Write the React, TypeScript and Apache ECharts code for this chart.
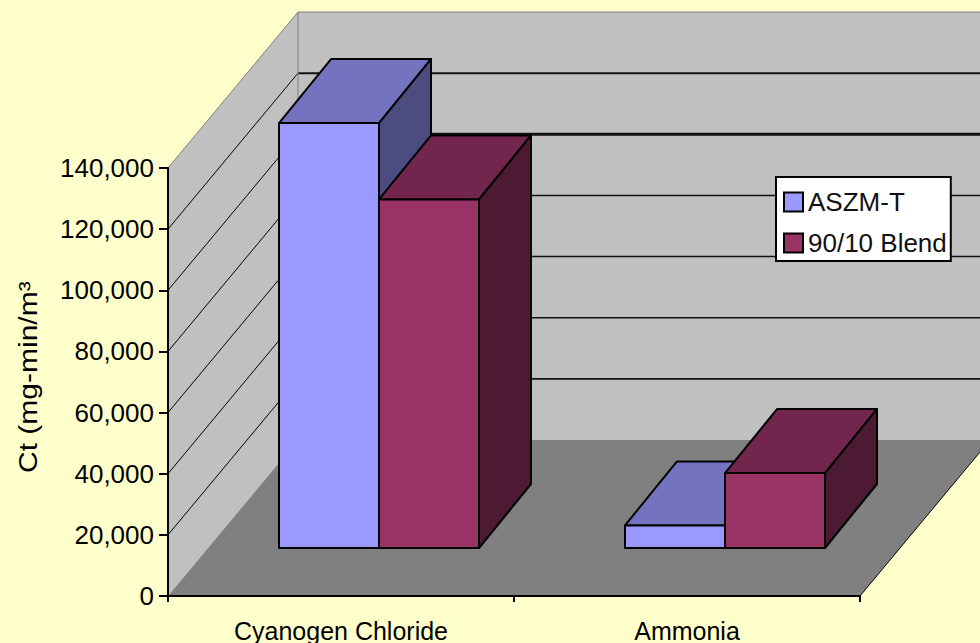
import React, { useEffect, useRef } from "react";
import * as echarts from "echarts";

const categories = ["Cyanogen Chloride", "Ammonia"];
const aszmValues = [139000, 7400];
const blendValues = [114000, 24500];
const yTicks = [20000, 40000, 60000, 80000, 100000, 120000, 140000];

const PAGE_BG = "#FFFFCC";
const WALL = "#C0C0C0";
const FLOOR = "#808080";
const INK = "#000000";

// Oblique projection of the chart box: how far the back wall sits from the front plane.
const BOX_DX = 130;
const BOX_DY = -156;
// Depth of each column and where the columns stand on the floor.
const BAR_DX = 52;
const BAR_DY = -64;
const INSET_DX = 38;
const INSET_DY = -48;
const BAR_W = 100;

// Back wall gridlines drawn heavier than the rest.
const backLineWidth = (t: number) => (t === 100000 ? 3 : t === 120000 ? 2 : 1.6);

function renderFrame(params: any, api: any) {
  const cs = params.coordSys;
  const x0 = cs.x;
  const x1 = cs.x + cs.width;
  const yBase = api.coord([0, 0])[1];
  const yTop = api.coord([0, 140000])[1];
  const poly = (points: number[][], fill: string) => ({
    type: "polygon",
    shape: { points },
    style: { fill, stroke: null },
  });
  const line = (a: number[], b: number[], stroke: string, lineWidth: number) => ({
    type: "line",
    shape: { x1: a[0], y1: a[1], x2: b[0], y2: b[1] },
    style: { stroke, lineWidth, fill: null },
  });
  const children: any[] = [
    poly([[x0, yBase], [x0, yTop], [x0 + BOX_DX, yTop + BOX_DY], [x0 + BOX_DX, yBase + BOX_DY]], WALL),
    poly([[x0 + BOX_DX, yTop + BOX_DY], [x1 + BOX_DX, yTop + BOX_DY], [x1 + BOX_DX, yBase + BOX_DY], [x0 + BOX_DX, yBase + BOX_DY]], WALL),
    poly([[x0, yBase], [x1, yBase], [x1 + BOX_DX, yBase + BOX_DY], [x0 + BOX_DX, yBase + BOX_DY]], FLOOR),
  ];
  for (const t of yTicks) {
    const y = api.coord([0, t])[1];
    const isTop = t === 140000;
    const bx = x0 + BOX_DX;
    const by = y + BOX_DY;
    children.push(line([x0, y], [bx, by], isTop ? FLOOR : INK, 1));
    children.push(line([bx, by], [x1 + BOX_DX, by], isTop ? FLOOR : "#111111", isTop ? 1 : backLineWidth(t)));
  }
  children.push(line([x0 + BOX_DX, yTop + BOX_DY], [x0 + BOX_DX, yBase + BOX_DY], FLOOR, 1));
  children.push(line([x1, yBase], [x1 + BOX_DX, yBase + BOX_DY], INK, 1));
  return { type: "group", children };
}

function renderBar(side: number, front: string, top: string, flank: string) {
  return (_params: any, api: any) => {
    const base = api.coord([api.value(0), 0]);
    const head = api.coord([api.value(0), api.value(1)]);
    const xl = base[0] + INSET_DX + (side === 0 ? -BAR_W : 0);
    const xr = xl + BAR_W;
    const yb = base[1] + INSET_DY;
    const yt = head[1] + INSET_DY;
    const face = (points: number[][], fill: string) => ({
      type: "polygon",
      shape: { points },
      style: { fill, stroke: INK, lineWidth: 2, lineJoin: "round" },
    });
    return {
      type: "group",
      children: [
        face([[xl, yt], [xl + BAR_DX, yt + BAR_DY], [xr + BAR_DX, yt + BAR_DY], [xr, yt]], top),
        face([[xr, yt], [xr + BAR_DX, yt + BAR_DY], [xr + BAR_DX, yb + BAR_DY], [xr, yb]], flank),
        face([[xl, yt], [xr, yt], [xr, yb], [xl, yb]], front),
      ],
    };
  };
}

export default function App() {
  const ref = useRef<HTMLDivElement>(null);

  useEffect(() => {
    document.body.style.margin = "0";
    const chart = echarts.init(ref.current!, null, { renderer: "svg" });
    const font = "'Liberation Sans', Arial, sans-serif";
    chart.setOption({
      animation: false,
      backgroundColor: PAGE_BG,
      grid: { left: 168, top: 168, width: 692, height: 428, containLabel: false },
      xAxis: {
        type: "category",
        data: categories,
        z: 5,
        axisLine: { lineStyle: { color: INK, width: 2 } },
        axisTick: { show: true, length: 6, lineStyle: { color: INK, width: 2 } },
        axisLabel: { color: INK, fontSize: 25, fontFamily: font, margin: 22 },
      },
      yAxis: {
        type: "value",
        min: 0,
        max: 140000,
        interval: 20000,
        z: 5,
        splitLine: { show: false },
        axisLine: { show: true, lineStyle: { color: INK, width: 2 } },
        axisTick: { show: true, length: 9, lineStyle: { color: INK, width: 2 } },
        axisLabel: {
          color: INK,
          fontSize: 26,
          fontFamily: font,
          margin: 14,
          formatter: (v: number) => v.toLocaleString("en-US"),
        },
      },
      legend: {
        left: 776,
        top: 177,
        orient: "vertical",
        data: ["ASZM-T", "90/10 Blend"],
        icon: "rect",
        itemWidth: 19,
        itemHeight: 19,
        itemGap: 15,
        padding: [12, 4, 5, 7],
        backgroundColor: "#FFFFFF",
        borderColor: INK,
        borderWidth: 2,
        borderRadius: 0,
        z: 10,
        selectedMode: false,
        textStyle: { color: "#111111", fontSize: 26, fontFamily: font },
        itemStyle: { borderColor: INK, borderWidth: 2 },
      },
      graphic: [
        {
          type: "text",
          x: 16,
          y: 473,
          rotation: Math.PI / 2,
          scaleX: 1.2,
          z: 10,
          style: { text: "Ct (mg-min/m³", fill: INK, fontSize: 25, fontFamily: font },
        },
      ],
      series: [
        {
          type: "custom",
          name: "frame",
          z: 1,
          silent: true,
          data: [[0, 0]],
          renderItem: renderFrame,
        },
        {
          type: "custom",
          name: "ASZM-T",
          z: 3,
          itemStyle: { color: "#9999FF" },
          data: aszmValues.map((v, i) => [i, v]),
          encode: { x: 0, y: 1 },
          renderItem: renderBar(0, "#9999FF", "#7373BF", "#4C4C80"),
        },
        {
          type: "custom",
          name: "90/10 Blend",
          z: 4,
          itemStyle: { color: "#993366" },
          data: blendValues.map((v, i) => [i, v]),
          encode: { x: 0, y: 1 },
          renderItem: renderBar(1, "#993366", "#73264D", "#4D1A33"),
        },
      ],
    });
    return () => chart.dispose();
  }, []);

  return <div ref={ref} style={{ width: 980, height: 643 }} />;
}
